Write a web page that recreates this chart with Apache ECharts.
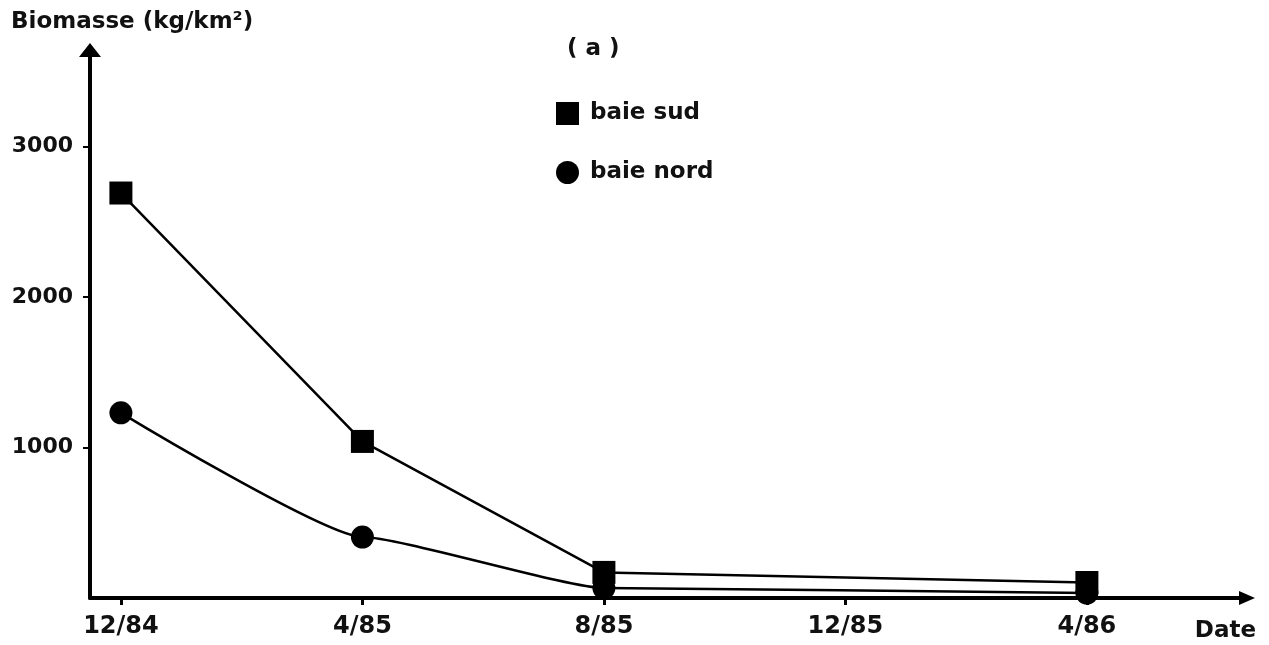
<!DOCTYPE html>
<html>
<head>
<meta charset="utf-8">
<style>
  html, body { margin: 0; padding: 0; background: #ffffff; }
  #chart { width: 1269px; height: 645px; }
</style>
<script src="https://cdn.jsdelivr.net/npm/echarts@6/dist/echarts.min.js"></script>
</head>
<body>
<div id="chart"></div>
<script>
// Sampling dates shown along the time axis
const dateLabels = ['12/84', '4/85', '8/85', '12/85', '4/86'];
// Position (index into dateLabels) of each survey
const surveyIndex = [0, 1, 2, 4];
// Biomass (kg/km²) per survey
const baieSud = [2690, 1040, 170, 103];
const baieNord = [1230, 405, 66, 33];
// Y-axis tick values
const yTicks = [1000, 2000, 3000];

const FONT = 'DejaVu Sans';

function pairs(values) {
  return values.map((v, i) => [surveyIndex[i], v]);
}

const chart = echarts.init(document.getElementById('chart'), null, { renderer: 'canvas' });

chart.setOption({
  backgroundColor: '#ffffff',
  animation: false,
  title: [
    {
      text: 'Biomasse (kg/km²)',
      left: 6, top: 6,
      textStyle: { fontFamily: FONT, fontSize: 23, fontWeight: 'bold', color: '#111' }
    },
    {
      text: '( a )',
      left: 562, top: 33,
      textStyle: { fontFamily: FONT, fontSize: 23, fontWeight: 'bold', color: '#111' }
    }
  ],
  legend: {
    orient: 'vertical',
    left: 551, top: 97,
    itemWidth: 23, itemHeight: 23,
    itemGap: 36,
    textStyle: { fontFamily: FONT, fontSize: 23, fontWeight: 'bold', color: '#111', padding: [0, 0, 0, 6] },
    data: [
      { name: 'baie sud', icon: 'rect' },
      { name: 'baie nord', icon: 'circle' }
    ]
  },
  grid: { left: 90, right: 22, top: 50, bottom: 47, containLabel: false },
  xAxis: {
    type: 'value',
    min: -0.128,
    max: 4.663,
    name: 'Date',
    nameLocation: 'end',
    nameGap: 9,
    nameTextStyle: {
      fontFamily: FONT, fontSize: 23, fontWeight: 'bold', color: '#111',
      align: 'right', verticalAlign: 'top', padding: [22, 0, 0, 0]
    },
    splitLine: { show: false },
    axisLine: {
      show: true,
      onZero: false,
      symbol: ['none', 'triangle'],
      symbolSize: [14, 16],
      lineStyle: { color: '#000', width: 4 }
    },
    axisTick: {
      show: true, inside: false, length: 7,
      customValues: [0, 1, 2, 3, 4],
      lineStyle: { color: '#000', width: 3 }
    },
    axisLabel: {
      customValues: [0, 1, 2, 3, 4],
      formatter: v => dateLabels[Math.round(v)],
      margin: 17,
      fontFamily: FONT, fontSize: 24, fontWeight: 'bold', color: '#111'
    }
  },
  yAxis: {
    type: 'value',
    min: 0,
    max: 3640,
    splitLine: { show: false },
    axisLine: {
      show: true,
      onZero: false,
      symbol: ['none', 'triangle'],
      symbolSize: [22, 14],
      lineStyle: { color: '#000', width: 4 }
    },
    axisTick: {
      show: true, inside: false, length: 7,
      customValues: yTicks,
      lineStyle: { color: '#000', width: 2 }
    },
    axisLabel: {
      customValues: yTicks,
      formatter: v => String(v),
      margin: 17,
      fontFamily: FONT, fontSize: 22, fontWeight: 'bold', color: '#111'
    }
  },
  series: [
    {
      name: 'baie sud',
      type: 'line',
      data: pairs(baieSud),
      symbol: 'rect',
      symbolSize: 23,
      itemStyle: { color: '#000' },
      lineStyle: { color: '#000', width: 2.5 },
      z: 3
    },
    {
      name: 'baie nord',
      type: 'line',
      data: pairs(baieNord),
      smooth: 0.15,
      smoothMonotone: 'x',
      symbol: 'circle',
      symbolSize: 23,
      itemStyle: { color: '#000' },
      lineStyle: { color: '#000', width: 2.5 },
      z: 2
    }
  ]
});
</script>
</body>
</html>
